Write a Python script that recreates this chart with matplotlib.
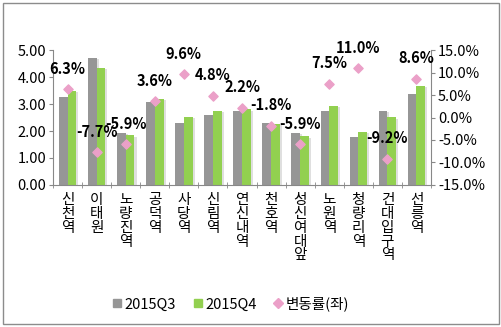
import numpy as np
import matplotlib
matplotlib.use("Agg")
import matplotlib.pyplot as plt
import matplotlib.patheffects as pe
from matplotlib.patches import Rectangle
from matplotlib.lines import Line2D

plt.rcParams['font.family'] = ['Noto Sans CJK KR', 'DejaVu Sans']

stations = ["신천역", "이태원", "노량진역", "공덕역", "사당역", "신림역", "연신내역",
            "천호역", "성신여대앞", "노원역", "청량리역", "건대입구역", "선릉역"]
q3 = [3.27, 4.71, 1.94, 3.07, 2.30, 2.60, 2.75, 2.31, 1.94, 2.74, 1.79, 2.75, 3.37]
q4 = [3.49, 4.34, 1.84, 3.20, 2.53, 2.75, 2.80, 2.26, 1.81, 2.93, 1.96, 2.51, 3.67]
rate = [6.3, -7.7, -5.9, 3.6, 9.6, 4.8, 2.2, -1.8, -5.9, 7.5, 11.0, -9.2, 8.6]

gray = "#969696"
green = "#92D050"
pink = "#EBA0C8"

fig = plt.figure(figsize=(5.02, 3.27), dpi=100)
fig.patches.append(Rectangle((0.006, 0.009), 0.988, 0.982, transform=fig.transFigure,
                             fill=False, edgecolor="#8c8c8c", linewidth=1.0))
ax = fig.add_axes([0.1056, 0.4343, 0.753, 0.4127])
x = np.arange(len(stations))
w = 0.3
shadow = [pe.SimplePatchShadow(offset=(1.5, -1), shadow_rgbFace="#c0c0c0", alpha=0.5), pe.Normal()]
ax.bar(x - w / 2, q3, w, color=gray, path_effects=shadow)
ax.bar(x + w / 2, q4, w, color=green, path_effects=shadow)
ax.set_ylim(0, 5)
ax.set_xlim(-0.5, len(stations) - 0.5)
ax.set_yticks(np.arange(0, 5.01, 1))
ax.set_yticklabels(["%.2f" % v for v in np.arange(0, 5.01, 1)], fontsize=10.5)
ax.set_xticks(x)
ax.set_xticklabels(["\n".join(s) for s in stations], fontsize=10.5, linespacing=0.98, va="top")
ax.tick_params(axis="x", length=0, pad=6)
ax.set_xticks(np.arange(-0.5, len(stations), 1), minor=True)
ax.tick_params(axis="x", which="minor", length=4, direction="inout", color="#888888")
ax.tick_params(axis="y", length=3, color="#888888", pad=2)
for s in ["top", "right"]:
    ax.spines[s].set_visible(False)
ax.spines["left"].set_color("#888888")
ax.spines["bottom"].set_color("#888888")

ax2 = ax.twinx()
ax2.scatter(x, rate, marker="D", s=22, color=pink, zorder=5)
ax2.set_ylim(-15, 15)
ax2.set_yticks(np.arange(-15, 15.1, 5))
ax2.set_yticklabels(["%.1f%%" % v for v in np.arange(-15, 15.1, 5)], fontsize=10.5)
ax2.tick_params(axis="y", length=3, color="#888888", pad=2)
for s in ["top", "left", "bottom"]:
    ax2.spines[s].set_visible(False)
ax2.spines["right"].set_color("#888888")
for xi, r in zip(x, rate):
    ax2.annotate("%.1f%%" % r, (xi, r), xytext=(0, 9), textcoords="offset points",
                 ha="center", va="bottom", fontsize=10.5, fontweight="bold")

handles = [Line2D([], [], ls="", marker="s", ms=6, color=gray),
           Line2D([], [], ls="", marker="s", ms=6, color=green),
           Line2D([], [], ls="", marker="D", ms=5, color=pink)]
fig.legend(handles, ["2015Q3", "2015Q4", "변동률(좌)"], loc="center",
           bbox_to_anchor=(0.46, 0.07), ncol=3, frameon=False, fontsize=10.5,
           handlelength=0.6, handletextpad=0.2, columnspacing=1.2)

fig.savefig("out.png", dpi=100)
